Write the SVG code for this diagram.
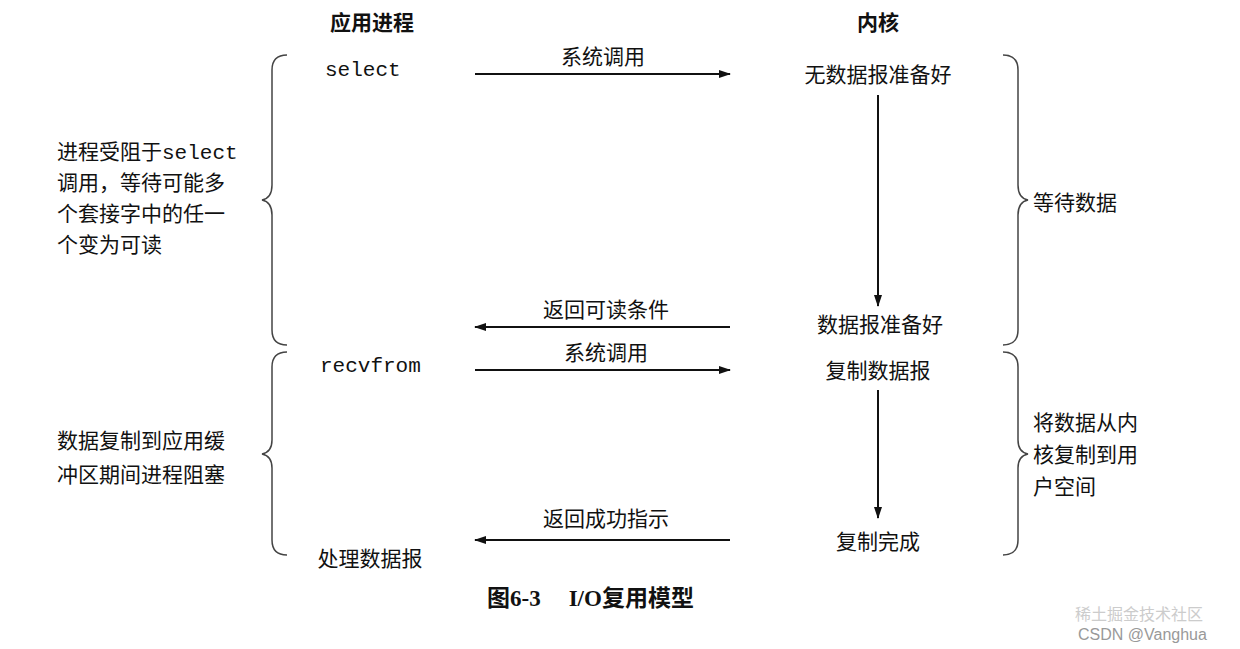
<svg xmlns="http://www.w3.org/2000/svg" width="1240" height="649" viewBox="0 0 1240 649">
<defs>
<marker id="ah" markerWidth="12" markerHeight="8" refX="11" refY="4" orient="auto" markerUnits="userSpaceOnUse"><path d="M0,0 L12,4 L0,8 Z" fill="#111"/></marker>
<style>
text{font-family:"Noto Sans CJK SC","Liberation Serif",serif;font-size:21px;fill:#111}
.m{font-family:"Liberation Mono",monospace;font-size:21px}
.h{font-weight:bold}
.c{text-anchor:middle}
.ln{stroke:#111;stroke-width:2;fill:none}
.br{stroke:#444;stroke-width:1.5;fill:none}
</style>
</defs>
<rect width="1240" height="649" fill="#fff"/>
<text class="h c" x="372" y="30">应用进程</text>
<text class="h c" x="878" y="30">内核</text>
<g id="braces">
<path class="br" d="M287,55 Q272,55 272,70 L272,185 Q272,198 262,200 Q272,202 272,215 L272,330 Q272,345 287,345"/>
<path class="br" d="M287,352 Q272,352 272,367 L272,440 Q272,452 262,454 Q272,456 272,468 L272,540 Q272,555 287,555"/>
<path class="br" d="M1003,55 Q1018,55 1018,70 L1018,185 Q1018,198 1028,200 Q1018,202 1018,215 L1018,330 Q1018,345 1003,345"/>
<path class="br" d="M1003,352 Q1018,352 1018,367 L1018,440 Q1018,452 1028,454 Q1018,456 1018,468 L1018,540 Q1018,555 1003,555"/>
</g>
<g id="connectors">
<line class="ln" x1="475" y1="74" x2="730" y2="74" marker-end="url(#ah)"/>
<line class="ln" x1="878" y1="95" x2="878" y2="306" marker-end="url(#ah)"/>
<line class="ln" x1="730" y1="327" x2="475" y2="327" marker-end="url(#ah)"/>
<line class="ln" x1="475" y1="370" x2="730" y2="370" marker-end="url(#ah)"/>
<line class="ln" x1="878" y1="390" x2="878" y2="518" marker-end="url(#ah)"/>
<line class="ln" x1="730" y1="540" x2="475" y2="540" marker-end="url(#ah)"/>
<text class="c" x="603" y="64">系统调用</text>
<text class="c" x="606" y="317">返回可读条件</text>
<text class="c" x="606" y="360">系统调用</text>
<text class="c" x="606" y="526">返回成功指示</text>
</g>
<g id="n-select"><text class="m" x="325" y="76">select</text></g>
<g id="n-nodata"><text class="c" x="878" y="82">无数据报准备好</text></g>
<g id="n-ready"><text class="c" x="880" y="332">数据报准备好</text></g>
<g id="n-recvfrom"><text class="m" x="320" y="372">recvfrom</text></g>
<g id="n-copy"><text class="c" x="878" y="378">复制数据报</text></g>
<g id="n-done"><text class="c" x="878" y="549">复制完成</text></g>
<g id="n-process"><text class="c" x="370" y="566">处理数据报</text></g>
<g id="left1">
<text x="57" y="159">进程受阻于<tspan class="m">select</tspan></text>
<text x="57" y="190">调用，等待可能多</text>
<text x="57" y="221">个套接字中的任一</text>
<text x="57" y="252">个变为可读</text>
</g>
<g id="left2">
<text x="57" y="448">数据复制到应用缓</text>
<text x="57" y="482">冲区期间进程阻塞</text>
</g>
<g id="right1"><text x="1033" y="210">等待数据</text></g>
<g id="right2">
<text x="1033" y="430">将数据从内</text>
<text x="1033" y="462">核复制到用</text>
<text x="1033" y="494">户空间</text>
</g>
<text x="487" y="606" style="font-family:'Liberation Serif','Noto Sans CJK SC',serif;font-weight:bold;font-size:23px">图6-3<tspan dx="28">I/O复用模型</tspan></text>
<text x="1075" y="620" style="font-size:16px;fill:#ccc">稀土掘金技术社区</text>
<text x="1078" y="640" style="font-family:'Liberation Sans',sans-serif;font-size:16px;fill:#999">CSDN @Vanghua</text>
</svg>
